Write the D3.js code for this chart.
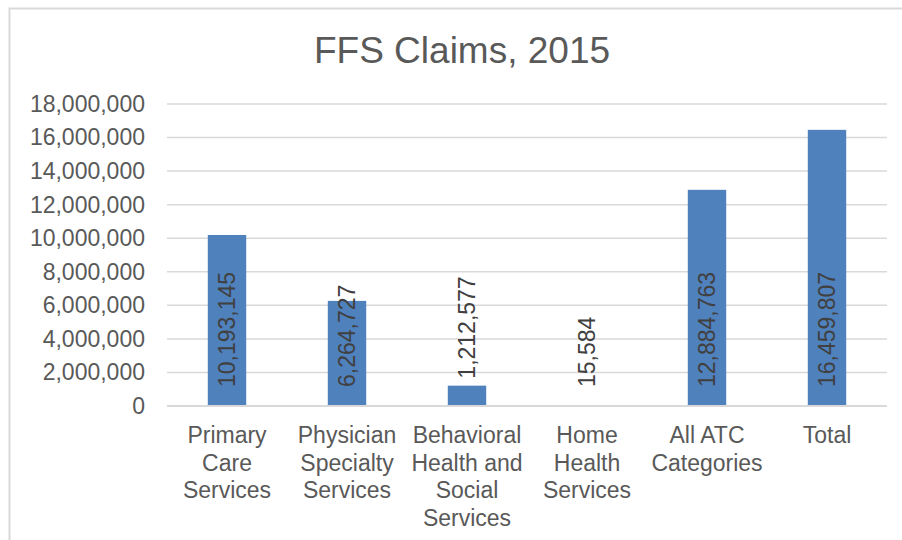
<!DOCTYPE html>
<html>
<head>
<meta charset="utf-8">
<script src="https://cdn.jsdelivr.net/npm/d3@7"></script>
<style>
  body { margin: 0; background: #fff; }
  text { font-family: "Liberation Sans", Arial, sans-serif; }
</style>
</head>
<body>
<svg id="mainsvg" width="902" height="540"></svg>
<script>
const categories = [
  ['Primary', 'Care', 'Services'],
  ['Physician', 'Specialty', 'Services'],
  ['Behavioral', 'Health and', 'Social', 'Services'],
  ['Home', 'Health', 'Services'],
  ['All ATC', 'Categories'],
  ['Total']
];
const claims = [10193145, 6264727, 1212577, 15584, 12884763, 16459807];
const yTicks = [0, 2000000, 4000000, 6000000, 8000000, 10000000, 12000000, 14000000, 16000000, 18000000];

const svg = d3.select('#mainsvg');
const margin = {top: 104, left: 167, right: 15, bottom: 134};
const width = 902 - margin.left - margin.right;
const height = 540 - margin.top - margin.bottom;
const textCol = '#595959';

// chart border (only left/top visible in the reference)
svg.append('rect')
  .attr('x', 9.5).attr('y', 8.5)
  .attr('width', 910).attr('height', 560)
  .attr('fill', 'none').attr('stroke', '#d9d9d9').attr('stroke-width', 2);

svg.append('text')
  .attr('x', 462).attr('y', 63)
  .attr('text-anchor', 'middle')
  .style('font-size', '37px')
  .attr('fill', textCol)
  .text('FFS Claims, 2015');

const g = svg.append('g').attr('transform', `translate(${margin.left},${margin.top})`);

const xScale = d3.scaleBand().domain(d3.range(categories.length)).range([0, width])
  .paddingInner(0.68).paddingOuter(0.34);
const yScale = d3.scaleLinear().domain([0, 18000000]).range([height, 0]);

// gridlines
g.selectAll('.grid').data(yTicks).enter().append('line')
  .attr('x1', 0).attr('x2', width)
  .attr('y1', d => yScale(d)).attr('y2', d => yScale(d))
  .attr('stroke', '#d9d9d9').attr('stroke-width', 1.5);

// y axis labels
const yAxis = g.append('g')
  .call(d3.axisLeft(yScale).tickValues(yTicks).tickFormat(d3.format(',')).tickSize(0).tickPadding(22));
yAxis.select('.domain').remove();
yAxis.selectAll('text').style('font-size', '23px').attr('fill', textCol)
  .style('font-family', '"Liberation Sans", Arial, sans-serif');

// bars
g.selectAll('.bar').data(claims).enter().append('rect')
  .attr('class', 'bar')
  .attr('x', (d, i) => xScale(i))
  .attr('width', xScale.bandwidth())
  .attr('y', d => yScale(d))
  .attr('height', d => height - yScale(d))
  .attr('fill', '#4f81bd');

// baseline
g.append('line')
  .attr('x1', 0).attr('x2', width)
  .attr('y1', height).attr('y2', height)
  .attr('stroke', '#d9d9d9').attr('stroke-width', 2);

// data labels (rotated, at the bar base; short bars push it above the top)
g.selectAll('.lbl').data(claims).enter().append('text')
  .attr('transform', (d, i) => {
    const cx = xScale(i) + xScale.bandwidth() / 2;
    const bh = height - yScale(d);
    const y = (bh > 30 || bh < 3) ? height - 19 : yScale(d) - 7;
    return `translate(${cx},${y}) rotate(-90)`;
  })
  .attr('dy', '0.36em')
  .style('font-size', '23px')
  .attr('fill', '#404040')
  .text(d => d3.format(',')(d));

// category labels
const cat = g.selectAll('.cat').data(categories).enter().append('text')
  .attr('text-anchor', 'middle')
  .style('font-size', '23px')
  .attr('fill', textCol)
  .attr('transform', (d, i) => `translate(${xScale(i) + xScale.bandwidth() / 2},${height + 37})`);
cat.selectAll('tspan').data(d => d).enter().append('tspan')
  .attr('x', 0)
  .attr('y', (d, i) => i * 27.5)
  .text(d => d);
</script>
</body>
</html>
